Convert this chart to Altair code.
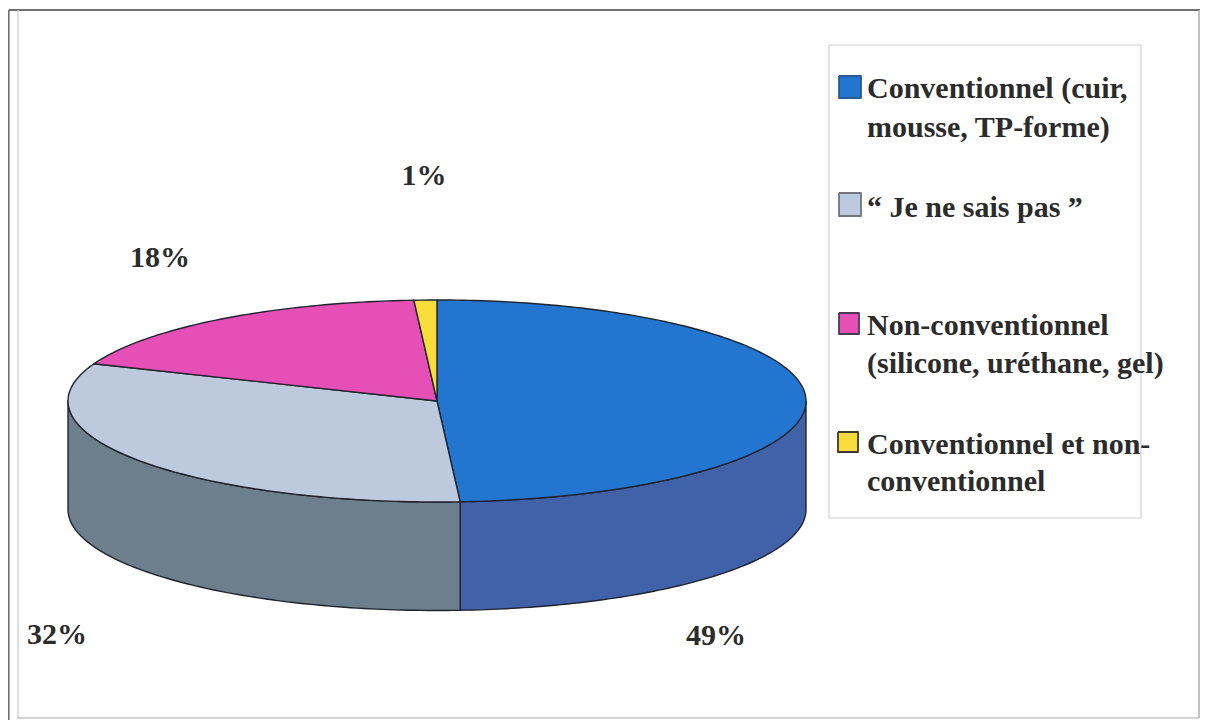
import math
import altair as alt
import pandas as pd

# Data
categories = ["Conventionnel (cuir, mousse, TP-forme)", "« Je ne sais pas »",
              "Non-conventionnel (silicone, uréthane, gel)", "Conventionnel et non-conventionnel"]
shares = [49, 32, 18, 1]
share_labels = ["49%", "32%", "18%", "1%"]
top_colors = ["#2276CF", "#BDC9DC", "#E64FB5", "#F8DC3A"]
side_colors = ["#4162A8", "#6D7F8C", "#000000", "#000000"]
legend_lines = [["Conventionnel (cuir,", "mousse, TP-forme)"],
                ["“ Je ne sais pas ”"],
                ["Non-conventionnel", "(silicone, uréthane, gel)"],
                ["Conventionnel et non-", "conventionnel"]]

# Layout in page pixels
CX, CY, RX, RY, DEPTH = 437, 401, 369, 101, 108.5
label_xy = [(716, 645), (57, 644), (160, 267), (424, 185)]
legend_baselines = [[98, 137], [217], [335, 373], [454, 491]]
swatches = [(839, 76, 861, 98), (839, 193, 861, 216), (839, 313, 859, 334), (838, 432, 858, 452)]
swatch_strokes = ["#2a5a90", "#70757f", "#4a3a55", "#3a3a2a"]
W, H = 1192, 712
x_s = alt.Scale(domain=[8, 8 + W], range=[0, W])
y_s = alt.Scale(domain=[8, 8 + H], range=[0, H])
X = alt.X("x:Q", scale=x_s, axis=None)
Y = alt.Y("y:Q", scale=y_s, axis=None)


def pt(a, dy=0):
    r = math.radians(a)
    return CX + RX * math.sin(r), CY - RY * math.cos(r) + dy


def frame(points):
    return pd.DataFrame([{"x": p[0], "y": p[1], "i": i} for i, p in enumerate(points)])


def arc(a0, a1, dy=0):
    n = max(2, int(abs(a1 - a0)) + 1)
    return [pt(a0 + (a1 - a0) * k / (n - 1), dy) for k in range(n)]


def shape(points, fill, stroke="#20242f", sw=1.4):
    return alt.Chart(frame(list(points) + [points[0]])).mark_line(
        fill=fill, stroke=stroke, strokeWidth=sw, strokeJoin="round").encode(x=X, y=Y, order="i:Q")


def line(points, stroke, sw):
    return alt.Chart(frame(points)).mark_line(stroke=stroke, strokeWidth=sw).encode(x=X, y=Y, order="i:Q")


layers = [
    line([(8.8, 10), (1200, 10)], "#6e6e6e", 2),       # page frame
    line([(8.8, 10), (8.8, 720)], "#707070", 1.6),
    line([(18, 10), (18, 718)], "#d2d2d2", 1.4),
    line([(1199, 10), (1199, 718)], "#b5b5b5", 1.6),
    line([(17, 718), (1199, 718)], "#c4c4c4", 1.4),
    shape([(829, 45), (1141, 45), (1141, 518), (829, 518)], "#ffffff", "#cfcfcf", 1.2),  # legend box
]

# side walls, drawn for the slices crossing the visible front half
angle = 0
sides, tops = [], []
for s, tc, sc in zip(shares, top_colors, side_colors):
    a0, a1 = angle, angle + s * 3.6
    lo, hi = max(a0, 90), min(a1, 270)
    if hi > lo:
        sides.append(shape(arc(lo, hi) + arc(hi, lo, DEPTH), sc))
    tops.append(shape([(CX, CY)] + arc(a0, a1), tc))
    angle = a1
layers += sides + tops

# percentage labels
lab = pd.DataFrame({"x": [p[0] for p in label_xy], "y": [p[1] for p in label_xy], "t": share_labels})
layers.append(alt.Chart(lab).mark_text(font="Liberation Serif", fontWeight="bold", fontSize=30,
                                       color="#2b2b2b", align="center", baseline="alphabetic")
              .encode(x=X, y=Y, text="t:N"))

# legend
tx_rows = []
for sq, st, c, lines, bl in zip(swatches, swatch_strokes, top_colors, legend_lines, legend_baselines):
    x0, y0, x1, y1 = sq
    layers.append(shape([(x0, y0), (x1, y0), (x1, y1), (x0, y1)], c, st, 1.8))
    for t, y in zip(lines, bl):
        tx_rows.append({"x": 867, "y": y, "t": t})
layers.append(alt.Chart(pd.DataFrame(tx_rows)).mark_text(font="Liberation Serif", fontWeight="bold", fontSize=30,
                                                         color="#2b2b2b", align="left", baseline="alphabetic")
              .encode(x=X, y=Y, text="t:N"))

chart = alt.layer(*layers).properties(width=W, height=H, padding=0, autosize="none", background="#ffffff"
                                      ).configure_view(stroke=None)
chart.save("out.html", embed_options={"renderer": "svg", "actions": False})
